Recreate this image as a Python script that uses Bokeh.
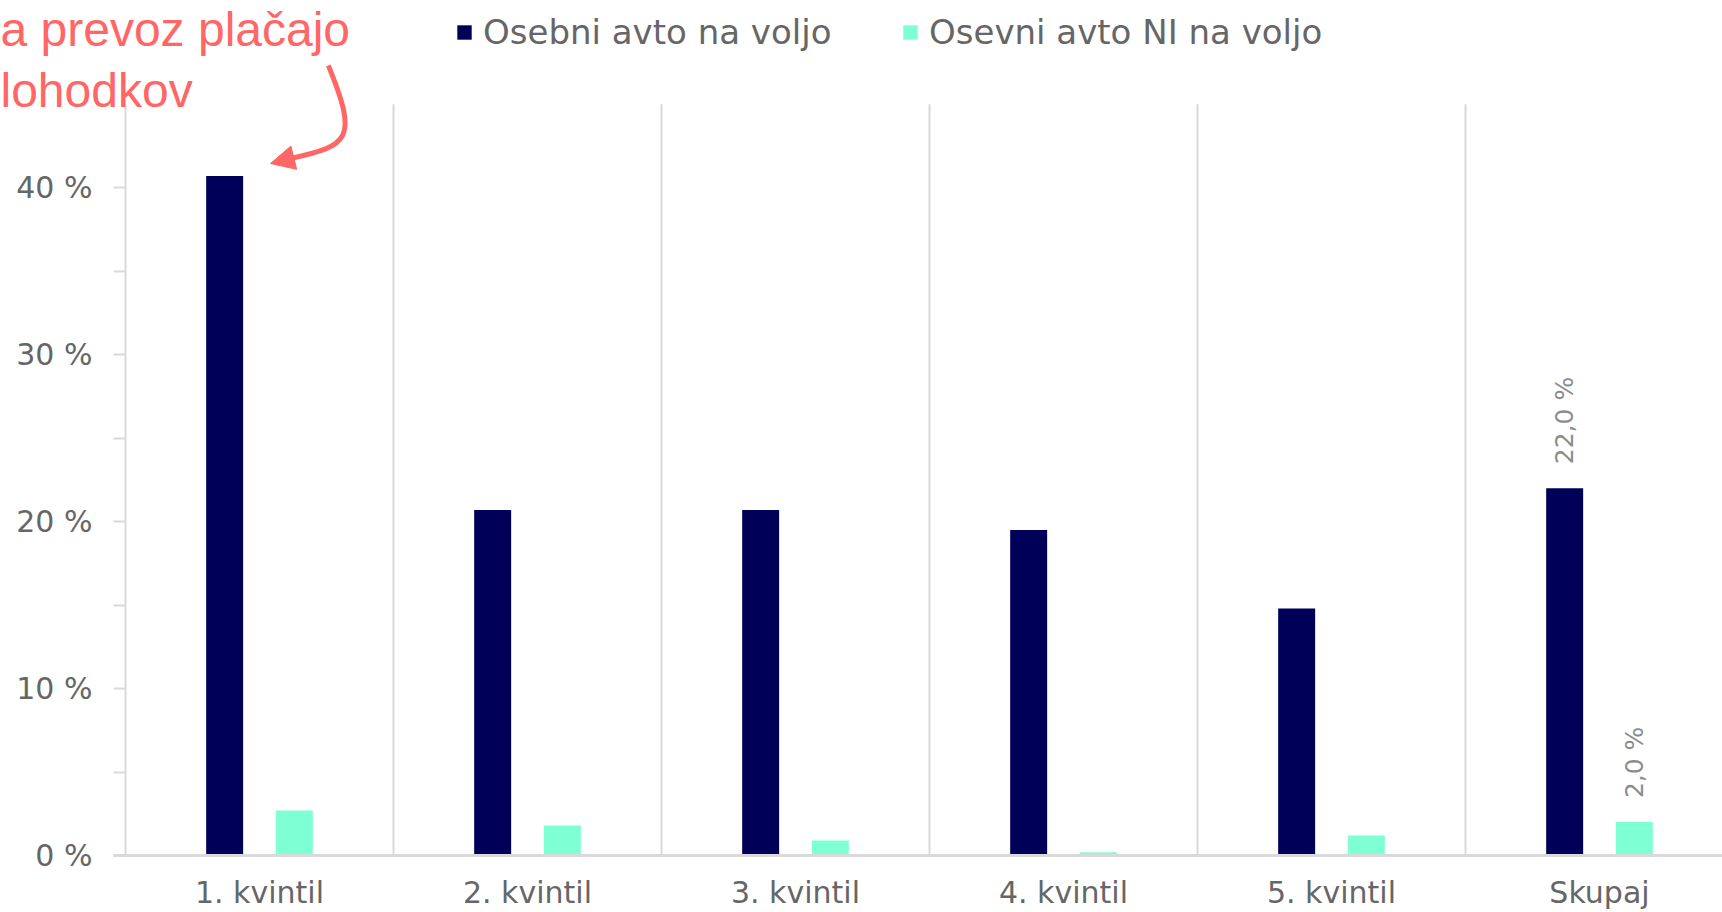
import math
from bokeh.plotting import figure
from bokeh.models import (Range1d, FixedTicker, Legend, LegendItem, Label, Arrow,
                          NormalHead, ColumnDataSource)
from bokeh.core.properties import value
from bokeh.embed import file_html
from bokeh.resources import INLINE

# ---------------- data ----------------
categories = ["1. kvintil", "2. kvintil", "3. kvintil", "4. kvintil", "5. kvintil", "Skupaj"]
series_names = ["Osebni avto na voljo", "Osevni avto NI na voljo"]
car_available = [40.7, 20.7, 20.7, 19.5, 14.8, 22.0]
car_not_available = [2.7, 1.8, 0.9, 0.2, 1.2, 2.0]
y_ticks = [0, 5, 10, 15, 20, 25, 30, 35, 40]
y_tick_labels = ["0 %", "", "10 %", "", "20 %", "", "30 %", "", "40 %"]
y_max = 45
label_category = "Skupaj"
annotation_lines = ["a prevoz plačajo", "lohodkov"]

DARK = "#000058"
LIGHT = "#7FFFD4"
GRID = "#D9D9D9"
TEXT = "#666666"
RED = "#FF6666"
FONT = "DejaVu Sans"

W, H = 1722, 912
AXIS_X = 125.0        # pixel position of the value axis
AXIS_Y = 855.0        # pixel position of the category axis
CAT_PX = 268.0        # pixels per category
PCT_PX = 16.695       # pixels per percent

p = figure(width=W, height=H, output_backend="svg", toolbar_location=None,
           x_range=Range1d(-AXIS_X / CAT_PX, (W - AXIS_X) / CAT_PX),
           y_range=Range1d(-(H - AXIS_Y) / PCT_PX, AXIS_Y / PCT_PX),
           min_border_left=0, min_border_right=0, min_border_top=0,
           min_border_bottom=0)
p.outline_line_color = None
p.background_fill_color = "white"
p.border_fill_color = "white"
p.xgrid.visible = False
p.ygrid.visible = False

# vertical separators between categories
bounds = list(range(1, len(categories)))
p.segment(x0=bounds, y0=[0] * len(bounds), x1=bounds, y1=[y_max] * len(bounds),
          line_color=GRID, line_width=2)

centers = [i + 0.5 for i in range(len(categories))]
BAR_W = 0.138
OFF = 0.13
src = ColumnDataSource(dict(
    x_dark=[c - OFF for c in centers], x_light=[c + OFF for c in centers],
    dark=car_available, light=car_not_available))
r_dark = p.vbar(x="x_dark", top="dark", width=BAR_W, source=src,
                fill_color=DARK, line_color=None)
r_light = p.vbar(x="x_light", top="light", width=BAR_W, source=src,
                 fill_color=LIGHT, line_color=None)

# data labels for the total
k = categories.index(label_category)
lab_x = [centers[k] - OFF, centers[k] + OFF]
lab_y = [car_available[k], car_not_available[k]]
lab_t = [f"{v:.1f} %".replace(".", ",") for v in lab_y]
p.text(x=lab_x, y=lab_y, text=lab_t, angle=math.pi / 2, y_offset=-24,
       text_align="left", text_baseline="middle",
       text_font=value(FONT), text_font_size="25px", text_color="#8C8C8C")

# value axis (drawn at x = 0)
p.yaxis.fixed_location = 0
p.yaxis.ticker = FixedTicker(ticks=y_ticks)
p.yaxis.major_label_overrides = {t: l for t, l in zip(y_ticks, y_tick_labels)}
p.yaxis.bounds = (0, y_max)
p.yaxis.axis_line_color = GRID
p.yaxis.axis_line_width = 2
p.yaxis.major_tick_line_color = GRID
p.yaxis.major_tick_line_width = 2
p.yaxis.major_tick_out = 12
p.yaxis.major_tick_in = 0
p.yaxis.minor_tick_line_color = None
p.yaxis.major_label_standoff = 21
p.yaxis.major_label_text_font = FONT
p.yaxis.major_label_text_font_size = "30px"
p.yaxis.major_label_text_color = TEXT

# category axis (drawn at y = 0)
p.xaxis.fixed_location = 0
p.xaxis.ticker = FixedTicker(ticks=centers)
p.xaxis.major_label_overrides = {c: n for c, n in zip(centers, categories)}
p.xaxis.bounds = (-12 / CAT_PX, len(categories))
p.xaxis.axis_line_color = GRID
p.xaxis.axis_line_width = 3
p.xaxis.major_tick_line_color = None
p.xaxis.minor_tick_line_color = None
p.xaxis.major_tick_out = 0
p.xaxis.major_tick_in = 0
p.xaxis.major_label_standoff = 19
p.xaxis.major_label_text_font = FONT
p.xaxis.major_label_text_font_size = "30px"
p.xaxis.major_label_text_color = TEXT

# legends (one per series, positioned like the reference)
for rend, name, xloc in [(r_dark, series_names[0], 455), (r_light, series_names[1], 901)]:
    lg = Legend(items=[LegendItem(label=name, renderers=[rend])],
                location=(xloc, H - 52), orientation="horizontal",
                glyph_width=18, glyph_height=18, label_standoff=10,
                label_text_font=FONT, label_text_font_size="34px",
                label_text_color=TEXT, padding=0, margin=0, spacing=0,
                border_line_color=None, background_fill_alpha=0)
    p.add_layout(lg, "center")

# annotation text + curved arrow
p.add_layout(Label(x=0, y=H - 28.5, x_units="screen", y_units="screen",
                   text=annotation_lines[0], text_align="left", text_baseline="alphabetic",
                   text_font="Liberation Sans", text_font_size="48px", text_color=RED))
p.add_layout(Label(x=0, y=H - 90, x_units="screen", y_units="screen",
                   text=annotation_lines[1], text_align="left", text_baseline="alphabetic",
                   text_font="Liberation Sans", text_font_size="48px", text_color=RED))
p.bezier(x0=[0.757], y0=[47.32], x1=[0.616], y1=[41.75],
         cx0=[0.869], cy0=[42.89], cx1=[0.836], cy1=[42.53],
         line_color=RED, line_width=5)
p.add_layout(Arrow(end=NormalHead(size=24, fill_color=RED, line_color=RED, line_width=1),
                   x_start=0.616, y_start=41.75, x_end=0.541, y_end=41.45,
                   line_color=RED, line_width=5))

open("out.html", "w").write(file_html(p, INLINE))
